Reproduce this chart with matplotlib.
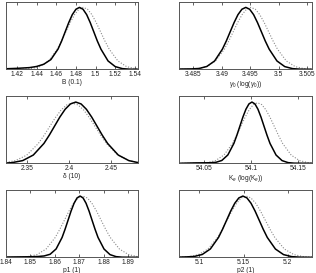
import matplotlib
matplotlib.use("Agg")
import matplotlib.pyplot as plt

plt.rcParams['font.family'] = ['Liberation Sans', 'DejaVu Sans']
plt.rcParams['mathtext.fontset'] = 'custom'
plt.rcParams['mathtext.rm'] = 'Liberation Sans'
plt.rcParams['mathtext.it'] = 'Liberation Sans:italic'

# ---------------- data ----------------
# Panel 1: B (0.1)
b_xlim = (1.409, 1.5425)
b_ticks = [1.42, 1.44, 1.46, 1.48, 1.5, 1.52, 1.54]
b_ticklabels = ["1.42", "1.44", "1.46", "1.48", "1.5", "1.52", "1.54"]
b_solid_x = [1.409, 1.42, 1.4328, 1.4401, 1.4473, 1.4546, 1.4618, 1.4655, 1.4691, 1.4727, 1.4763,
             1.4800, 1.4836, 1.4872, 1.4909, 1.4945, 1.4981, 1.5017, 1.5054, 1.5126, 1.5199,
             1.5271, 1.5344, 1.5425]
b_solid_y = [0.008, 0.014, 0.025, 0.042, 0.075, 0.145, 0.300, 0.421, 0.558, 0.694, 0.812,
             0.892, 0.920, 0.892, 0.812, 0.694, 0.558, 0.421, 0.299, 0.124, 0.040,
             0.010, 0.002, 0.0]
b_dot_x = [1.409, 1.4258, 1.4346, 1.4434, 1.4522, 1.4610, 1.4654, 1.4698, 1.4742, 1.4786, 1.4830,
           1.4874, 1.4918, 1.4962, 1.5006, 1.5050, 1.5094, 1.5138, 1.5226, 1.5314, 1.5402, 1.5425]
b_dot_y = [0.0, 0.002, 0.010, 0.040, 0.124, 0.299, 0.421, 0.558, 0.694, 0.812, 0.892,
           0.920, 0.892, 0.812, 0.694, 0.558, 0.421, 0.299, 0.124, 0.040, 0.010, 0.008]

# Panel 2: gamma_0
g_xlim = (3.4825, 3.5058)
g_ticks = [3.485, 3.49, 3.495, 3.5, 3.505]
g_ticklabels = ["3.485", "3.49", "3.495", "3.5", "3.505"]
g_solid_x = [3.4825, 3.48464, 3.48601, 3.48737, 3.48874, 3.4901, 3.49079, 3.49147, 3.49215, 3.49283,
             3.49352, 3.4942, 3.49488, 3.49557, 3.49625, 3.49693, 3.49761, 3.4983, 3.49966,
             3.50103, 3.50239, 3.50376, 3.5058]
g_solid_y = [0.004, 0.006, 0.012, 0.042, 0.124, 0.299, 0.421, 0.558, 0.694, 0.812,
             0.892, 0.920, 0.892, 0.812, 0.694, 0.558, 0.421, 0.299, 0.124,
             0.040, 0.010, 0.002, 0.0]
g_dot_x = [3.4825, 3.48425, 3.4858, 3.48735, 3.4889, 3.49045, 3.49122, 3.492, 3.49277, 3.49355,
           3.49432, 3.4951, 3.49588, 3.49665, 3.49743, 3.4982, 3.49898, 3.49975, 3.5013,
           3.50285, 3.5044, 3.5058]
g_dot_y = [0.0, 0.002, 0.010, 0.040, 0.124, 0.299, 0.421, 0.558, 0.694, 0.812,
           0.892, 0.920, 0.892, 0.812, 0.694, 0.558, 0.421, 0.299, 0.124,
           0.040, 0.010, 0.002]

# Panel 3: delta (10)
d_xlim = (2.3255, 2.481)
d_ticks = [2.35, 2.4, 2.45]
d_ticklabels = ["2.35", "2.4", "2.45"]
d_solid_x = [2.3255, 2.3327, 2.34525, 2.3578, 2.37035, 2.37662, 2.3829, 2.38917, 2.39545, 2.40172,
             2.408, 2.41428, 2.42055, 2.42683, 2.4331, 2.43938, 2.44565, 2.4582, 2.47075, 2.481]
d_solid_y = [0.004, 0.010, 0.040, 0.123, 0.295, 0.417, 0.552, 0.687, 0.803, 0.882,
             0.910, 0.882, 0.803, 0.687, 0.552, 0.417, 0.295, 0.123, 0.040, 0.012]
d_dot_x = [2.3255, 2.3365, 2.35, 2.3635, 2.37025, 2.377, 2.38375, 2.3905, 2.39725,
           2.404, 2.41075, 2.4175, 2.42425, 2.431, 2.43775, 2.4445, 2.458, 2.4715, 2.481]
d_dot_y = [0.014, 0.039, 0.121, 0.291, 0.410, 0.543, 0.676, 0.790, 0.867,
           0.895, 0.867, 0.790, 0.676, 0.543, 0.410, 0.291, 0.121, 0.039, 0.015]

# Panel 4: K_e
k_xlim = (54.0229, 54.1653)
k_ticks = [54.05, 54.1, 54.15]
k_ticklabels = ["54.05", "54.1", "54.15"]
k_solid_x = [54.0229, 54.04, 54.05585, 54.0623, 54.06875, 54.0752, 54.08165, 54.08487, 54.0881,
             54.09132, 54.09455, 54.09777, 54.101, 54.10423, 54.10745, 54.11068, 54.1139,
             54.11713, 54.12035, 54.1268, 54.13325, 54.1397, 54.14615, 54.1653]
k_solid_y = [0.0, 0.006, 0.008, 0.014, 0.042, 0.124, 0.295, 0.417, 0.552,
             0.687, 0.803, 0.882, 0.910, 0.882, 0.803, 0.687, 0.552,
             0.417, 0.295, 0.123, 0.040, 0.010, 0.002, 0.0]
k_dot_x = [54.0229, 54.044, 54.053, 54.062, 54.071, 54.08, 54.0845, 54.089, 54.0935, 54.098,
           54.1025, 54.107, 54.1115, 54.116, 54.1205, 54.125, 54.1295, 54.134, 54.143,
           54.152, 54.161, 54.1653]
k_dot_y = [0.0, 0.002, 0.010, 0.040, 0.122, 0.292, 0.412, 0.546, 0.679, 0.794,
           0.872, 0.900, 0.872, 0.794, 0.679, 0.546, 0.412, 0.292, 0.122,
           0.040, 0.010, 0.005]

# Panel 5: p1 (1)
p1_xlim = (1.84, 1.8938)
p1_ticks = [1.84, 1.85, 1.86, 1.87, 1.88, 1.89]
p1_ticklabels = ["1.84", "1.85", "1.86", "1.87", "1.88", "1.89"]
p1_solid_x = [1.84, 1.85, 1.85315, 1.8556, 1.85805, 1.8605, 1.86295, 1.86417, 1.8654, 1.86662,
              1.86785, 1.86907, 1.8703, 1.87153, 1.87275, 1.87398, 1.8752, 1.87643, 1.87765,
              1.8801, 1.88255, 1.885, 1.88745, 1.8938]
p1_solid_y = [0.004, 0.008, 0.012, 0.020, 0.045, 0.124, 0.295, 0.417, 0.552, 0.687,
              0.803, 0.882, 0.910, 0.882, 0.803, 0.687, 0.552, 0.417, 0.295,
              0.123, 0.040, 0.010, 0.002, 0.0]
p1_dot_x = [1.84, 1.84515, 1.8489, 1.85265, 1.8564, 1.86015, 1.86202, 1.8639, 1.86577, 1.86765,
            1.86952, 1.8714, 1.87328, 1.87515, 1.87703, 1.8789, 1.88077, 1.88265, 1.8864,
            1.89015, 1.8938]
p1_dot_y = [0.0, 0.002, 0.010, 0.040, 0.123, 0.295, 0.417, 0.552, 0.687, 0.803,
            0.882, 0.910, 0.882, 0.803, 0.687, 0.552, 0.417, 0.295, 0.123,
            0.040, 0.010]

# Panel 6: p2 (1)
p2_xlim = (5.077, 5.2275)
p2_ticks = [5.1, 5.15, 5.2]
p2_ticklabels = ["5.1", "5.15", "5.2"]
p2_solid_x = [5.077, 5.0849, 5.0941, 5.1033, 5.1125, 5.1217, 5.1263, 5.1309, 5.1355, 5.1401,
              5.1447, 5.1493, 5.1539, 5.1585, 5.1631, 5.1677, 5.1723, 5.1769, 5.1861,
              5.1953, 5.2045, 5.2137, 5.2275]
p2_solid_y = [0.003, 0.006, 0.012, 0.042, 0.124, 0.295, 0.417, 0.552, 0.687, 0.803,
              0.882, 0.910, 0.882, 0.803, 0.687, 0.552, 0.417, 0.295, 0.123,
              0.040, 0.010, 0.002, 0.0]
p2_dot_x = [5.0774, 5.0882, 5.099, 5.1098, 5.1206, 5.126, 5.1314, 5.1368, 5.1422, 5.1476,
            5.153, 5.1584, 5.1638, 5.1692, 5.1746, 5.18, 5.1854, 5.1962, 5.207,
            5.2178, 5.2275]
p2_dot_y = [0.002, 0.010, 0.040, 0.123, 0.295, 0.417, 0.552, 0.687, 0.803, 0.882,
            0.910, 0.882, 0.803, 0.687, 0.552, 0.417, 0.295, 0.123, 0.040,
            0.010, 0.003]

xlabels = ["B (0.1)", r"$\gamma_0$ (log($\gamma_0$))", "\u03b4 (10)",
           r"K$_e$ (log(K$_e$))", "p1 (1)", "p2 (1)"]

panels = [
    (b_xlim, b_ticks, b_ticklabels, b_solid_x, b_solid_y, b_dot_x, b_dot_y),
    (g_xlim, g_ticks, g_ticklabels, g_solid_x, g_solid_y, g_dot_x, g_dot_y),
    (d_xlim, d_ticks, d_ticklabels, d_solid_x, d_solid_y, d_dot_x, d_dot_y),
    (k_xlim, k_ticks, k_ticklabels, k_solid_x, k_solid_y, k_dot_x, k_dot_y),
    (p1_xlim, p1_ticks, p1_ticklabels, p1_solid_x, p1_solid_y, p1_dot_x, p1_dot_y),
    (p2_xlim, p2_ticks, p2_ticklabels, p2_solid_x, p2_solid_y, p2_dot_x, p2_dot_y),
]

# ---------------- layout ----------------
W, H = 316, 273
fig = plt.figure(figsize=(W / 100, H / 100), dpi=100)
col_left = [6 / W, 179 / W]
col_width = [131.5 / W, 133 / W]
row_top = [2, 96, 190]
row_h = 67.3

for i, (xl, ticks, tlabels, sx, sy, dx, dy) in enumerate(panels):
    r, c = divmod(i, 2)
    bottom = 1 - (row_top[r] + row_h) / H
    ax = fig.add_axes([col_left[c], bottom, col_width[c], row_h / H])
    ax.plot(dx, dy, linestyle=(0, (1, 1.5)), color='#8a8a8a', linewidth=0.8)
    ax.plot(sx, sy, color='black', linewidth=1.1)
    ax.set_xlim(*xl)
    ax.set_ylim(0, 1)
    ax.set_xticks(ticks)
    ax.set_xticklabels(tlabels)
    ax.set_yticks([])
    ax.tick_params(axis='x', direction='in', top=True, bottom=True, length=2,
                   width=0.5, labelsize=4.8, pad=1.2, colors='#222222')
    for s in ax.spines.values():
        s.set_linewidth(0.7)
        s.set_color('#555555')
    ax.set_xlabel(xlabels[i], fontsize=4.8, labelpad=0.5, color='#222222')

fig.savefig("out.png", dpi=100)
